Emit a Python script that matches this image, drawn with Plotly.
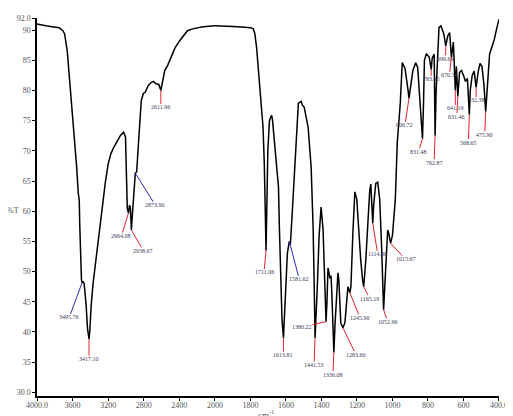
import numpy as np
import plotly.graph_objects as go

# ---------------- data ----------------
wavenumber = [
    4000, 3950, 3900, 3850, 3800, 3750, 3710, 3690, 3660, 3635, 3610, 3580, 3555, 3536,
    3525, 3520, 3512, 3505, 3500, 3492, 3480, 3470, 3455, 3448, 3432, 3425, 3415, 3405,
    3392, 3370, 3337, 3310, 3282, 3260, 3230, 3200, 3170, 3140, 3105, 3060, 3027, 3005,
    2998, 2994, 2985, 2972, 2960, 2950, 2939, 2925, 2910, 2895, 2880, 2862, 2845, 2828,
    2805, 2784, 2750, 2718, 2690, 2663, 2630, 2608, 2590, 2564, 2530, 2497, 2450, 2398,
    2350, 2309, 2250, 2200, 2150, 2100, 2050, 2000,
    1950, 1900, 1850, 1800, 1784, 1775, 1765, 1751, 1740, 1729, 1722, 1717, 1714, 1712,
    1708, 1702, 1693, 1681, 1676, 1665, 1655, 1642, 1637, 1630, 1622, 1614, 1603, 1592,
    1581, 1575, 1564, 1547, 1530, 1514, 1508, 1497, 1475, 1458, 1447, 1441, 1436, 1424,
    1413, 1402, 1391, 1380, 1374, 1369, 1363, 1352, 1346, 1341, 1335, 1330, 1324, 1313,
    1307, 1302, 1291, 1279, 1268, 1263, 1251, 1240, 1234, 1223, 1212, 1201, 1190, 1179,
    1168, 1162, 1150, 1139, 1128, 1122, 1117, 1111, 1106, 1094, 1083, 1072, 1061, 1050,
    1039, 1027, 1022, 1011, 1000, 984, 973, 956, 945, 929, 912, 907, 896, 885, 869, 858,
    847, 836, 831, 825, 820, 809, 793, 782, 776, 765, 760, 754, 744, 738, 727, 716, 711,
    700, 689, 678, 668, 657, 646, 640, 632, 622, 611, 600, 589, 578, 573, 567, 562, 551,
    540, 529, 518, 507, 496, 485, 475, 464, 453, 437, 426, 415, 404, 400,
]
transmittance = [
    91.0, 90.8, 90.7, 90.6, 90.5, 90.4, 89.9, 89.4, 86.5, 82.1, 77.5, 72.9, 67.5, 63.0,
    61.8, 58.0, 54.1, 50.0, 48.6, 48.2, 48.3, 48.0, 46.0, 44.5, 40.5, 39.2, 38.8, 40.5,
    44.2, 48.0, 52.0, 55.5, 59.0, 61.5, 65.0, 67.8, 69.5, 70.5, 71.5, 72.6, 73.1, 72.3,
    68.0, 61.8, 60.5, 59.7, 61.0, 60.5, 56.9, 60.0, 63.0, 66.3, 66.5, 70.0, 74.5, 78.3,
    79.5, 79.7, 80.8, 81.3, 81.5, 81.1, 81.0, 80.0, 81.5, 83.3, 84.2, 85.5, 87.0, 88.2,
    89.2, 89.9, 90.2, 90.4, 90.5, 90.6, 90.7, 90.7,
    90.7, 90.6, 90.5, 90.4, 90.2, 89.4, 87.0, 81.6, 77.5, 73.9, 68.0, 60.7, 56.0, 53.5,
    60.0, 70.0, 75.0, 75.9, 75.2, 71.7, 68.0, 64.0, 57.4, 48.0, 42.0, 39.0, 46.0, 53.0,
    55.0, 54.5, 60.0, 70.0, 77.9, 78.2, 77.6, 77.2, 73.9, 67.3, 57.4, 48.0, 39.0, 47.0,
    56.0, 60.7, 57.0, 47.0, 41.7, 45.0, 50.6, 48.9, 49.3, 46.0, 41.0, 36.6, 41.0, 48.0,
    49.8, 48.5, 41.5, 40.7, 41.5, 43.2, 47.5, 46.5, 47.5, 56.4, 63.2, 62.0, 56.0, 52.0,
    48.5, 47.5, 52.0, 59.0, 63.5, 64.5, 62.0, 58.0, 61.0, 64.6, 64.8, 62.0, 54.0, 43.7,
    50.0, 56.9, 56.5, 54.7, 56.0, 62.0, 71.3, 77.9, 84.6, 83.6, 80.0, 78.7, 81.0, 83.3, 84.6, 83.8,
    79.0, 73.5, 72.0, 78.0, 85.0, 86.1, 85.5, 83.5, 85.4, 86.0, 72.5, 80.0, 88.0, 90.4, 90.7, 89.5, 89.4,
    87.4, 89.0, 89.6, 85.5, 88.0, 80.0, 84.0, 79.0, 83.0, 83.3, 82.5, 81.5, 82.0, 79.0, 76.0, 80.0, 82.5,
    83.2, 80.5, 83.0, 84.5, 84.0, 81.0, 76.5, 82.0, 86.0, 87.5, 88.5, 90.0, 91.5, 91.8,
]

# labelled peaks
peak_labels = [
    "3495.76", "3417.10", "2964.08", "2938.67", "2873.90", "2611.96",
    "1711.06", "1613.81", "1581.62", "1441.53", "1380.22", "1336.08", "1283.60",
    "1245.90", "1165.19", "1114.88", "1052.96", "1015.67", "906.72", "831.48",
    "783.45", "762.87", "699.69", "670.34", "641.19", "631.46", "568.65",
    "532.38", "475.90",
]
peak_wavenumber = [
    3492, 3415, 2972, 2939, 2895, 2608,
    1712, 1614, 1581, 1436, 1374, 1330, 1279,
    1240, 1162, 1111, 1050, 1011, 907, 831,
    782, 760, 700, 668, 646, 632, 567,
    529, 475,
]
peak_transmittance = [
    48.2, 38.8, 59.7, 56.9, 66.3, 80.0,
    53.5, 39.0, 55.0, 39.0, 41.7, 36.6, 40.7,
    46.5, 47.5, 58.0, 43.7, 54.7, 78.7, 72.0,
    83.5, 72.5, 87.4, 85.5, 80.0, 79.0, 76.0,
    80.5, 76.5,
]
peak_marker = [
    "blue", "red", "red", "red", "blue", "red",
    "red", "red", "blue", "red", "red", "red", "red",
    "red", "red", "red", "red", "red", "red", "red",
    "red", "red", "red", "red", "red", "red", "red",
    "red", "red",
]

x_ticks_high = [4000, 3600, 3200, 2800, 2400, 2000]
x_ticktext_high = ["4000.0", "3600", "3200", "2800", "2400", "2000"]
x_ticks_low = [1800, 1600, 1400, 1200, 1000, 800, 600, 400]
x_ticktext_low = ["1800", "1600", "1400", "1200", "1000", "800", "600", "400.0"]
y_ticks = [30, 35, 40, 45, 50, 55, 60, 65, 70, 75, 80, 85, 90, 92]
y_ticktext = ["30.0", "35", "40", "45", "50", "55", "60", "65", "70", "75", "80", "85", "90", "92.0"]

# ---------------- figure ----------------
w = np.array(wavenumber, dtype=float)
t = np.array(transmittance, dtype=float)
hi = w >= 2000
lo = w <= 2000

split = (218 - 37) / 470.0

fig = go.Figure()
fig.add_trace(go.Scatter(x=w[hi], y=t[hi], mode="lines", xaxis="x", yaxis="y",
                         line=dict(color="black", width=1.5), showlegend=False))
fig.add_trace(go.Scatter(x=w[lo], y=t[lo], mode="lines", xaxis="x2", yaxis="y",
                         line=dict(color="black", width=1.5), showlegend=False))

# label offsets in pixels (text centre relative to the peak point)
label_ax = [-13, 0, -7, 12, 20, 0, -2, 0, 10, -1, -24, -1, 13, 10, 6, 5, 4, 15, -4, -4, 0, -1, 0, -2, 0, -1, -1, 0, -1]
label_ay = [35, 20, 23, 21, 32, 17, 22, 17, 38, 27, 5, 22, 27, 25, 12, 31, 12, 16, 27, 13, 10, 27, 13, 18, 18, 20, 28, 13, 23]

marker_colors = {"red": "#e0242c", "blue": "#2b2bb8"}
for lab, pw, pt, mk, dx, dy in zip(peak_labels, peak_wavenumber, peak_transmittance,
                                    peak_marker, label_ax, label_ay):
    fig.add_annotation(
        x=pw, y=pt, xref="x" if pw > 2000 else "x2", yref="y",
        text=lab, showarrow=True, arrowhead=0, arrowwidth=1,
        arrowcolor=marker_colors[mk], ax=dx, ay=dy, standoff=0, startstandoff=0,
        font=dict(family="Liberation Serif", size=6, color="#3a3a5a"),
        borderpad=0,
    )

axis_font = dict(family="Liberation Serif", size=8, color="#555555")
# the page body adds an 8 px offset, so the figure is 8 px smaller than the window
fig.update_layout(
    width=505, height=408,
    margin=dict(l=29, r=6, t=9, b=11),
    paper_bgcolor="white", plot_bgcolor="white",
    xaxis=dict(domain=[0, split], range=[4000, 2000], tickvals=x_ticks_high,
               ticktext=x_ticktext_high, showgrid=False, zeroline=False,
               showline=True, linecolor="black", linewidth=1.5,
               ticks="outside", ticklen=3, tickcolor="black", tickfont=axis_font,
               ticklabelstandoff=-2, anchor="y"),
    xaxis2=dict(domain=[split, 1], range=[2000, 400], tickvals=x_ticks_low,
                ticktext=x_ticktext_low, showgrid=False, zeroline=False,
                showline=True, linecolor="black", linewidth=1.5,
                ticks="outside", ticklen=3, tickcolor="black", tickfont=axis_font,
                ticklabelstandoff=-2, anchor="y"),
    yaxis=dict(range=[29.4, 92.0], tickvals=y_ticks, ticktext=y_ticktext,
               showgrid=False, zeroline=False, showline=True, linecolor="black",
               linewidth=1.5, ticks="outside", ticklen=3, tickcolor="black",
               tickfont=axis_font),
)

fig.add_annotation(x=(13 - 37) / 470.0, y=(397 - 211) / 380.0, xref="paper", yref="paper",
                   xanchor="center", yanchor="middle", text="%T", showarrow=False,
                   font=dict(family="Liberation Serif", size=8, color="#555555"))
fig.add_annotation(x=(270 - 37) / 470.0, y=(397 - 415) / 380.0, xref="paper", yref="paper",
                   xanchor="center", yanchor="middle",
                   text="cm<sup>-1</sup>", showarrow=False,
                   font=dict(family="Liberation Serif", size=9, color="#555555"))

fig.write_html("out.html")
